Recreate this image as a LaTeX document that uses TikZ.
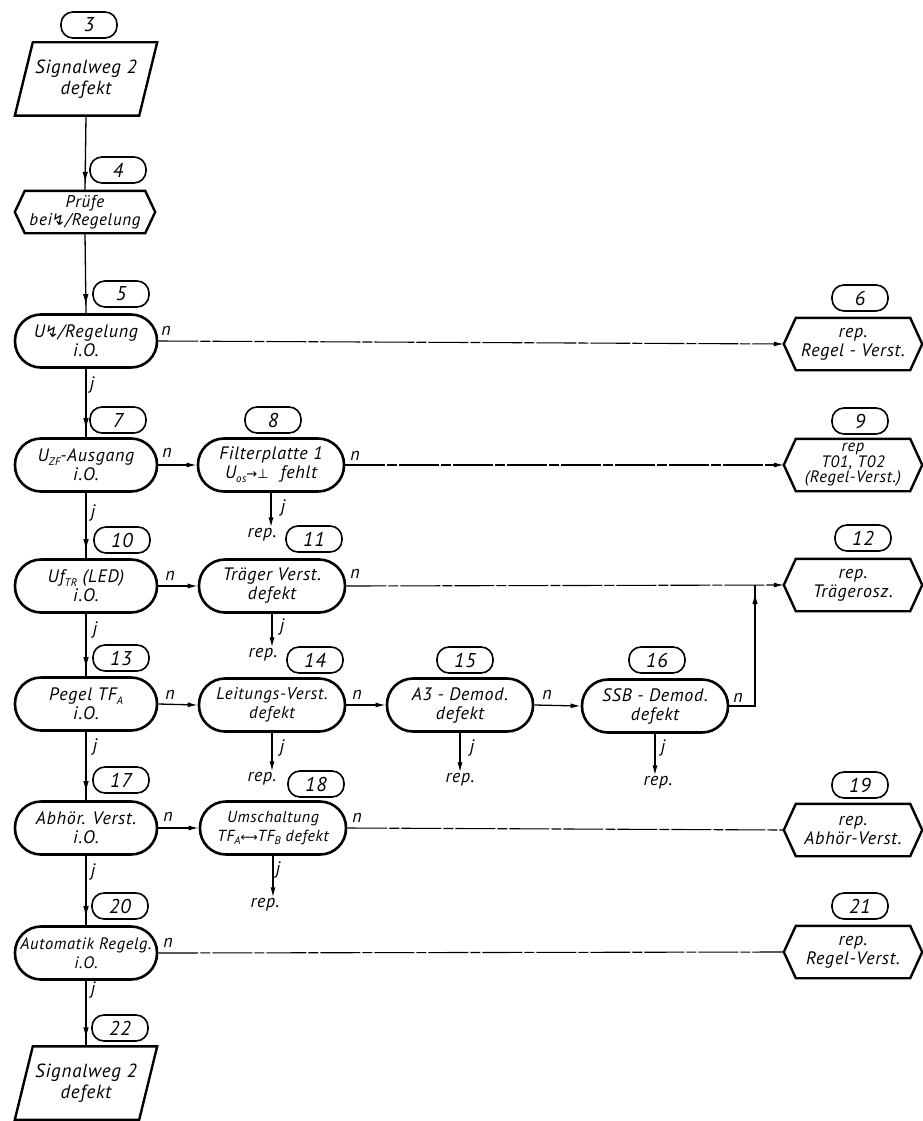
\documentclass[tikz,border=0pt]{standalone}
\usepackage{fontspec}
\setmainfont{PT Sans}[LetterSpace=4]
\newfontfamily\symf{DejaVu Sans}
\usetikzlibrary{calc,arrows.meta,decorations.markings}
\newcommand\sbs[1]{\raisebox{-0.45ex}{\fontsize{11}{11}\selectfont #1}}
\newcommand\bolt{{\symf\upshape\fontsize{16}{16}\selectfont ↯}}
\newcommand\hexa[7]{%
  \node[hexbody, minimum width=#3, minimum height=#4, #7] (#1) at (#2) {#6};
  \coordinate (#1-w) at ($(#1.west)+(-#5,0)$);
  \coordinate (#1-e) at ($(#1.east)+(#5,0)$);
  \draw[hexline] (#1.north west) -- (#1.north east) -- (#1-e) -- (#1.south east) -- (#1.south west) -- (#1-w) -- cycle;}
\newcommand\para[3]{%
  \node[parabody] (#1) at (#2) {#3};
  \draw[hexline] ($(#1.south west)+(-9,0)$) -- ($(#1.south east)+(-9,0)$) -- ($(#1.north east)+(9,0)$) -- ($(#1.north west)+(9,0)$) -- cycle;}
\begin{document}
\begin{tikzpicture}[x=1pt,y=-1pt,
  font=\fontsize{18}{19}\selectfont\itshape,
  tag/.style={draw, line width=1.6pt, rounded corners=12pt, minimum width=56pt, minimum height=26pt, inner sep=0pt, font=\fontsize{20}{20}\selectfont\itshape},
  dec/.style={draw, line width=2.6pt, rounded corners=26pt, minimum width=142pt, minimum height=53pt, inner sep=0pt, align=center},
  bx/.style={dec, minimum width=146pt},
  hexbody/.style={inner sep=0pt, align=center},
  parabody/.style={inner sep=0pt, align=center, minimum width=124pt, minimum height=73pt, font=\fontsize{19}{21}\selectfont\itshape},
  hexline/.style={line width=2.4pt, line join=miter},
  lbl/.style={inner sep=1pt},
  link/.style={line width=1.3pt},
  arr/.style={link, -{Latex[length=10pt,width=5pt]}},
  far/.style={line width=1.1pt, dash pattern=on 40pt off 2pt on 10pt off 2pt},
  down/.style={link, postaction={decorate}, decoration={markings, mark=at position -8pt with {\arrow{Latex[length=11pt,width=5.5pt]}}}}
]
\useasboundingbox (0,0) rectangle (922,1121);

% ---- tags ----
\node[tag] (t3)  at (89,25)   {3};
\node[tag] (t4)  at (118,170) {4};
\node[tag] (t5)  at (121,294) {5};
\node[tag] (t6)  at (860,298) {6};
\node[tag] (t7)  at (118,420) {7};
\node[tag] (t8)  at (273,420) {8};
\node[tag] (t9)  at (860,421) {9};
\node[tag] (t10) at (122,540) {10};
\node[tag] (t11) at (314,539) {11};
\node[tag] (t12) at (863,538) {12};
\node[tag] (t13) at (121,658) {13};
\node[tag] (t14) at (315,660) {14};
\node[tag] (t15) at (465,660) {15};
\node[tag] (t16) at (657,660) {16};
\node[tag] (t17) at (121,780) {17};
\node[tag] (t18) at (316,784) {18};
\node[tag] (t19) at (860,785) {19};
\node[tag] (t20) at (120,906) {20};
\node[tag] (t21) at (860,906) {21};
\node[tag] (t22) at (120,1028) {22};

% ---- main column ----
\para{p3}{86,79}{Signalweg 2\\defekt}
\hexa{h4}{85,212}{120pt}{42pt}{10}{Prüfe\\bei\bolt/Regelung}{font=\fontsize{17}{18}\selectfont\itshape}
\node[dec] (d5)  at (86,341) {U\bolt/Regelung\\i.O.};
\node[dec] (d7)  at (86,465) {U\sbs{ZF}-Ausgang\\i.O.};
\node[dec] (d10) at (86,586) {Uf\sbs{TR} (LED)\\i.O.};
\node[dec] (d13) at (86,704) {Pegel TF\sbs{A}\\i.O.};
\node[dec] (d17) at (86,828) {Abhör. Verst.\\i.O.};
\node[dec, font=\fontsize{16.5}{19}\selectfont\itshape] (d20) at (86,953) {Automatik Regelg.\\i.O.};
\para{p22}{86,1083}{Signalweg 2\\defekt}

% ---- second column and beyond ----
\node[bx] (b8)  at (271,465) {Filterplatte 1\\U\sbs{os}{\symf\upshape\fontsize{13}{13}\selectfont →⊥}\hspace{12pt}fehlt};
\node[bx] (b11) at (272,586) {Träger Verst.\\defekt};
\node[bx, font=\fontsize{17}{19}\selectfont\itshape] (b14) at (272,705) {Leitungs-Verst.\\defekt};
\node[bx] (b15) at (460,705) {A3 - Demod.\\defekt};
\node[bx] (b16) at (655,706) {SSB - Demod.\\defekt};
\node[bx, font=\fontsize{16}{19}\selectfont\itshape] (b18) at (273,828) {Umschaltung\\TF\sbs{A}{\symf\upshape\fontsize{12}{12}\selectfont ⟷}TF\sbs{B} defekt};

% ---- right hexagons ----
\hexa{h6}{853,344}{114pt}{52pt}{12}{rep.\\Regel - Verst.}{}
\hexa{h9}{853,465}{114pt}{52pt}{12}{rep\\T01, T02\\(Regel-Verst.)}{font=\fontsize{16.5}{15}\selectfont\itshape}
\hexa{h12}{853,585}{114pt}{52pt}{12}{rep.\\Trägerosz.}{}
\hexa{h19}{853,830}{114pt}{52pt}{12}{rep.\\Abhör-Verst.}{}
\hexa{h21}{853,952}{114pt}{52pt}{12}{rep.\\Regel-Verst.}{}

% ---- rep. texts ----
\node[lbl] (r8)  at (262,535) {rep.};
\node[lbl] (r11) at (263,655) {rep.};
\node[lbl] (r14) at (262,779) {rep.};
\node[lbl] (r15) at (460,780) {rep.};
\node[lbl] (r16) at (658,783) {rep.};
\node[lbl] (r18) at (265,905) {rep.};

% ---- main vertical connectors ----
\draw[down] (p3.south) -- (h4.north);
\draw[down] (h4.south) -- (d5.north);
\draw[down] (d5.south) -- (d7.north);
\draw[down] (d7.south) -- (d10.north);
\draw[down] (d10.south) -- (d13.north);
\draw[down] (d13.south) -- (d17.north);
\draw[down] (d17.south) -- (d20.north);
\draw[down] (d20.south) -- (p22.north);

% ---- j arrows to rep. ----
\draw[arr] (b8.south) -- (b8.south |- r8.north);
\draw[arr] (b11.south) -- (b11.south |- r11.north);
\draw[arr] (b14.south) -- (b14.south |- r14.north);
\draw[arr] (b15.south) -- (b15.south |- r15.north);
\draw[arr] (b16.south) -- (b16.south |- r16.north);
\draw[arr] (b18.south) -- (b18.south |- r18.north);

% ---- n connectors ----
\draw[arr, far] (d5.east) -- (h6-w);
\draw[arr] (d7.east) -- (b8.west);
\draw[arr, far] (b8.east) -- (h9-w);
\draw[arr] (d10.east) -- (b11.west);
\draw[arr, far] (b11.east) -- (h12-w);
\draw[arr] (d13.east) -- (b14.west);
\draw[arr] (b14.east) -- (b15.west);
\draw[arr] (b15.east) -- (b16.west);
\coordinate (j16) at (755,585);
\draw[down] (b16.east) -| (j16);
\draw[arr] (d17.east) -- (b18.west);
\draw[link, far] (b18.east) -- (h19-w);
\draw[link, far] (d20.east) -- (h21-w);

% ---- j labels ----
\node[lbl] (j5)  at (92,385) {j};
\node[lbl] (j7)  at (93,513) {j};
\node[lbl] (j10) at (95,630) {j};
\node[lbl] (j13) at (95,747) {j};
\node[lbl] (j17) at (93,872) {j};
\node[lbl] (j20) at (93,990) {j};
\node[lbl] (j8)  at (283,508) {j};
\node[lbl] (j11) at (282,627) {j};
\node[lbl] (j14) at (282,748) {j};
\node[lbl] (j15) at (472,748) {j};
\node[lbl] (j16) at (663,748) {j};
\node[lbl] (j18) at (278,870) {j};

% ---- n labels ----
\node[lbl] (n5)  at (166,331) {n};
\node[lbl] (n7)  at (167,453) {n};
\node[lbl] (n8)  at (355,456) {n};
\node[lbl] (n10) at (170,576) {n};
\node[lbl] (n11) at (355,574) {n};
\node[lbl] (n13) at (170,695) {n};
\node[lbl] (n14) at (357,695) {n};
\node[lbl] (n15) at (547,695) {n};
\node[lbl] (n16) at (738,698) {n};
\node[lbl] (n17) at (168,817) {n};
\node[lbl] (n18) at (357,818) {n};
\node[lbl] (n20) at (168,943) {n};
\end{tikzpicture}
\end{document}
